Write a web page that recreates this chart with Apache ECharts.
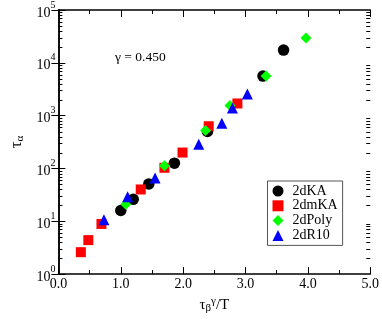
<!DOCTYPE html>
<html>
<head>
<meta charset="utf-8">
<script src="https://cdn.jsdelivr.net/npm/echarts@6/dist/echarts.min.js"></script>
<style>html,body{margin:0;padding:0;background:#fff}#c{width:382px;height:319px}</style>
</head>
<body>
<div id="c"></div>
<script>
// ---- data (x = tau_beta^gamma / T, y = tau_alpha) ----
var seriesNames = ['2dKA', '2dmKA', '2dPoly', '2dR10'];
var data2dKA = [[1.00, 16], [1.20, 26], [1.45, 51], [1.86, 126], [2.39, 500], [3.28, 5600], [3.61, 17400]];
var data2dmKA = [[0.36, 2.6], [0.48, 4.4], [0.69, 8.9], [1.32, 40], [1.70, 103], [1.99, 200], [2.41, 630], [2.87, 1700]];
var data2dPoly = [[1.08, 21], [1.70, 112], [2.36, 525], [2.75, 1550], [3.33, 5600], [3.97, 29500]];
var data2dR10 = [[0.73, 10.7], [1.11, 29], [1.55, 66], [2.25, 287], [2.62, 720], [2.79, 1400], [3.03, 2560]];
var xTicks = [0, 1, 2, 3, 4, 5];
var yDecades = [0, 1, 2, 3, 4, 5];
var annotation = '\u03b3 = 0.450';

var FONT = 'Liberation Serif';
// minor log ticks (2..9 within each decade)
var minorLogTicks = [];
for (var d = 0; d < yDecades.length - 1; d++) {
  for (var m = 2; m <= 9; m++) minorLogTicks.push([0, m * Math.pow(10, yDecades[d])]);
}

var chart = echarts.init(document.getElementById('c'));
var axisLine = {show: true, lineStyle: {color: '#000', width: 1.5}};
var yLabelRich = {
  b: {fontFamily: FONT, fontSize: 14, color: '#000', lineHeight: 20, verticalAlign: 'bottom'},
  s: {fontFamily: FONT, fontSize: 10, color: '#000', lineHeight: 10, verticalAlign: 'top'}
};
function sym(name, symbol, size, color, data) {
  return {
    name: name, type: 'scatter', symbol: symbol, symbolSize: size,
    itemStyle: {color: color, opacity: 1}, data: data, xAxisIndex: 0, yAxisIndex: 0
  };
}
var option = {
  animation: false,
  backgroundColor: '#fff',
  grid: {left: 40.5, right: 9, top: 10, bottom: 43, containLabel: false},
  xAxis: [{
    type: 'value', min: xTicks[0], max: xTicks[xTicks.length - 1], interval: 1,
    axisLine: axisLine,
    axisTick: {inside: true, length: 7, lineStyle: {color: '#000', width: 1}},
    minorTick: {show: true, splitNumber: 2, length: 4, lineStyle: {color: '#000', width: 1}},
    splitLine: {show: false},
    axisLabel: {fontFamily: FONT, fontSize: 14, color: '#000', margin: 3,
      formatter: function (v) { return v.toFixed(1); }},
    name: '{t|\u03c4}{sb|\u03b2}{sp|\u03b3}{t|/T}', nameLocation: 'middle', nameGap: 21,
    nameTextStyle: {rich: {
      t: {fontFamily: FONT, fontSize: 15, color: '#000', lineHeight: 18, verticalAlign: 'middle'},
      sb: {fontFamily: FONT, fontSize: 11, color: '#000', lineHeight: 11, verticalAlign: 'bottom'},
      sp: {fontFamily: FONT, fontSize: 11, color: '#000', lineHeight: 11, verticalAlign: 'top'}
    }}
  }, {
    type: 'value', position: 'top', min: xTicks[0], max: xTicks[xTicks.length - 1], interval: 1,
    axisLine: axisLine,
    axisTick: {inside: true, length: 7, lineStyle: {color: '#000', width: 1}},
    minorTick: {show: true, splitNumber: 2, length: 4, lineStyle: {color: '#000', width: 1}},
    splitLine: {show: false}, axisLabel: {show: false}
  }],
  yAxis: [{
    type: 'log', logBase: 10, min: Math.pow(10, yDecades[0]), max: Math.pow(10, yDecades[yDecades.length - 1]),
    axisLine: axisLine,
    axisTick: {inside: true, length: 7, lineStyle: {color: '#000', width: 1}},
    minorTick: {show: false},
    splitLine: {show: false},
    axisLabel: {margin: 3, formatter: function (v) {
      return '{b|10}{s|' + Math.round(Math.log10(v)) + '}';
    }, rich: yLabelRich},
    name: '{t|\u03c4}{sb|\u03b1}', nameLocation: 'middle', nameGap: 28, nameRotate: 90,
    nameTextStyle: {rich: {
      t: {fontFamily: FONT, fontSize: 17, color: '#000', lineHeight: 18, verticalAlign: 'middle'},
      sb: {fontFamily: FONT, fontSize: 11, color: '#000', lineHeight: 11, verticalAlign: 'bottom'}
    }}
  }, {
    type: 'log', logBase: 10, position: 'right', min: Math.pow(10, yDecades[0]), max: Math.pow(10, yDecades[yDecades.length - 1]),
    axisLine: axisLine,
    axisTick: {inside: true, length: 7, lineStyle: {color: '#000', width: 1}},
    splitLine: {show: false}, axisLabel: {show: false}
  }],
  legend: {
    data: seriesNames, orient: 'vertical', left: 267.5, top: 181,
    padding: [3, 5, 3, 5], itemGap: 0.8, itemWidth: 11, itemHeight: 11,
    borderColor: '#555', borderWidth: 1, backgroundColor: '#fff',
    textStyle: {fontFamily: FONT, fontSize: 14, color: '#000', lineHeight: 13, padding: [0, 0, 0, 4]}
  },
  graphic: [{
    type: 'text', left: 115, top: 50,
    style: {text: annotation, fontFamily: FONT, fontSize: 13.5, fill: '#000'}
  }],
  series: [
    {
      type: 'custom', name: 'minorTicks', silent: true, xAxisIndex: 0, yAxisIndex: 0,
      data: minorLogTicks,
      renderItem: function (params, api) {
        var cs = params.coordSys;
        var p = api.coord([0, api.value(1)]);
        var y = Math.round(p[1]) + 0.5;
        return {type: 'group', children: [
          {type: 'line', shape: {x1: cs.x, y1: y, x2: cs.x + 4, y2: y}, style: {stroke: '#000', lineWidth: 1}},
          {type: 'line', shape: {x1: cs.x + cs.width - 4, y1: y, x2: cs.x + cs.width, y2: y}, style: {stroke: '#000', lineWidth: 1}}
        ]};
      }
    },
    sym(seriesNames[0], 'circle', 11.5, '#000000', data2dKA),
    sym(seriesNames[1], 'rect', 10, '#ff0000', data2dmKA),
    sym(seriesNames[2], 'diamond', 11, '#00ff00', data2dPoly),
    sym(seriesNames[3], 'triangle', 11, '#0000ff', data2dR10)
  ]
};
chart.setOption(option);
</script>
</body>
</html>
